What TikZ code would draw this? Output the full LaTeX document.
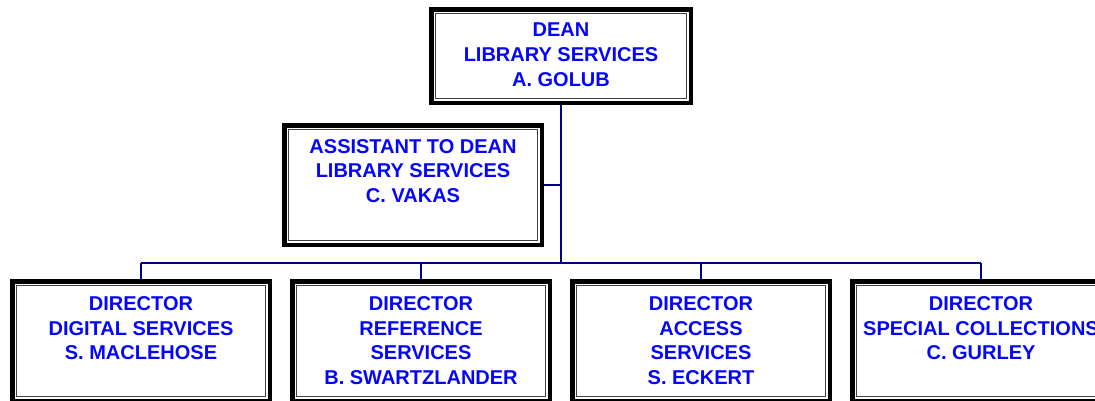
\documentclass[tikz,border=0pt]{standalone}
\usepackage{fontspec}
\setmainfont{Liberation Sans}
\usetikzlibrary{backgrounds}
\definecolor{connavy}{RGB}{0,0,128}
\definecolor{txtblue}{RGB}{5,5,250}
\tikzset{
  orgbox/.style={draw=black, line width=4.5pt, fill=white, inner sep=0pt, outer sep=0pt,
    path picture={\draw[line width=0.9pt, black!75]
      ([shift={(4.4pt,-4.4pt)}]path picture bounding box.north west) rectangle
      ([shift={(-4.4pt,4.4pt)}]path picture bounding box.south east);}},
  dirbox/.style={orgbox, minimum width=257.5pt, minimum height=119.5pt},
  txt/.style={text=txtblue, font=\fontsize{20}{24.6}\selectfont\bfseries, align=center, inner sep=0pt, anchor=north},
  conn/.style={draw=connavy, line width=2pt}
}
\begin{document}
\begin{tikzpicture}[x=1pt,y=-1pt]
\useasboundingbox (0,0) rectangle (1095,400);
\node[orgbox, minimum width=259.5pt, minimum height=93.5pt] (dean) at (561,56) {};
\node[orgbox, minimum width=257.5pt, minimum height=119.5pt] (asst) at (413,185) {};
\node[dirbox] (d1) at (141,341) {};
\node[dirbox] (d2) at (421,341) {};
\node[dirbox] (d3) at (701,341) {};
\node[dirbox] (d4) at (981,341) {};
\coordinate (bus) at (561,263);
\begin{scope}[on background layer]
  \draw[conn] (dean.south) -- (bus);
  \draw[conn] (asst.east) -- (asst.east -| bus);
  \draw[conn] (d1.north |- bus) -- (d4.north |- bus);
  \draw[conn] (d1.north |- bus) -- (d1.north);
  \draw[conn] (d2.north |- bus) -- (d2.north);
  \draw[conn] (d3.north |- bus) -- (d3.north);
  \draw[conn] (d4.north |- bus) -- (d4.north);
\end{scope}
\node[txt] (tdean) at (561,23.0) {DEAN\\LIBRARY SERVICES\\A. GOLUB};
\node[txt] (tasst) at (413,139.0) {ASSISTANT TO DEAN\\LIBRARY SERVICES\\C. VAKAS};
\node[txt] (td1) at (141,296.5) {DIRECTOR\\DIGITAL SERVICES\\S. MACLEHOSE};
\node[txt] (td2) at (421,296.5) {DIRECTOR\\REFERENCE\\SERVICES\\B. SWARTZLANDER};
\node[txt] (td3) at (701,296.5) {DIRECTOR\\ACCESS\\SERVICES\\S. ECKERT};
\node[txt] (td4) at (981,296.5) {DIRECTOR\\SPECIAL COLLECTIONS\\C. GURLEY};
\end{tikzpicture}
\end{document}
